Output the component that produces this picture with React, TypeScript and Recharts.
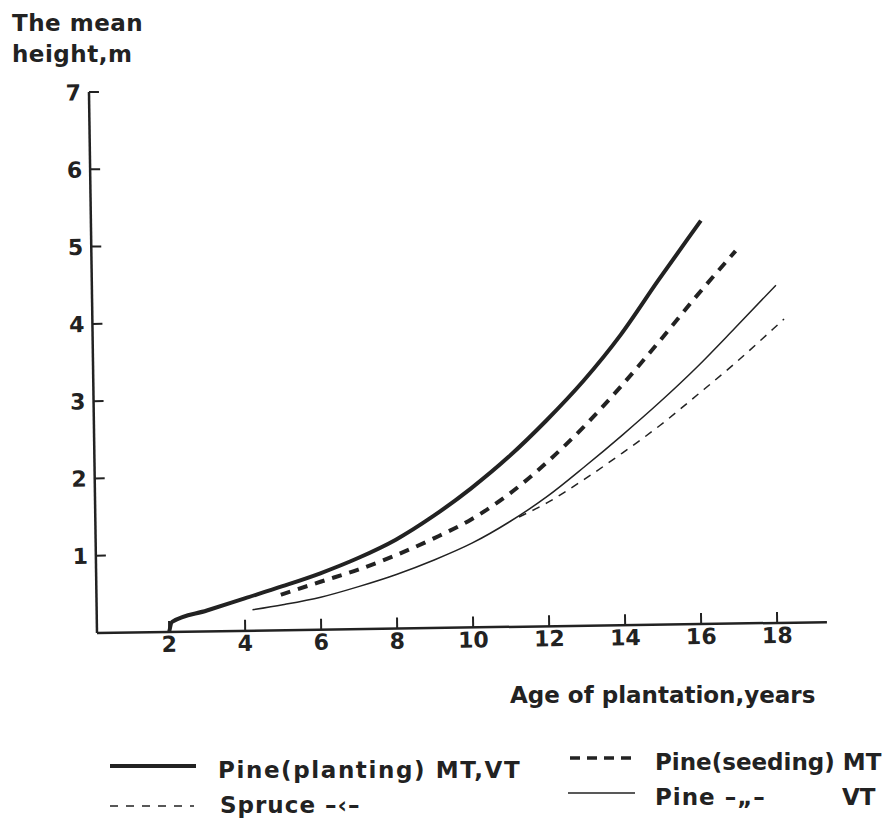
import { LineChart, Line, XAxis, YAxis } from 'recharts';

const plantingAge = [2, 2.08, 3, 4, 5, 6, 7, 8, 9, 10, 11, 12, 13, 14, 15, 16, 16.15];
const plantingHeight = [0, 0.13, 0.27, 0.42, 0.57, 0.73, 0.92, 1.15, 1.45, 1.8, 2.2, 2.66, 3.17, 3.76, 4.45, 5.12, 5.22];

const seedingAge = [4.95, 6, 7, 8, 9, 10, 11, 12, 13, 14, 15, 16, 17.05];
const seedingHeight = [0.46, 0.62, 0.77, 0.95, 1.16, 1.4, 1.72, 2.12, 2.58, 3.1, 3.66, 4.24, 4.82];

const pineVtAge = [4.2, 5, 6, 7, 8, 9, 10, 11, 12, 13, 14, 15, 16, 17, 18.1];
const pineVtHeight = [0.27, 0.33, 0.42, 0.55, 0.7, 0.88, 1.09, 1.36, 1.68, 2.06, 2.46, 2.88, 3.33, 3.82, 4.37];

const spruceAge = [11.25, 12, 13, 14, 15, 16, 17, 18, 18.3];
const spruceHeight = [1.42, 1.6, 1.9, 2.23, 2.58, 2.97, 3.37, 3.8, 3.93];

const xTicks = [2, 4, 6, 8, 10, 12, 14, 16, 18];
const yTicks = [1, 2, 3, 4, 5, 6, 7];

const toRows = (ages: number[], heights: number[]) => ages.map((age, i) => ({ age, h: heights[i] }));

const INK = '#222';
const FONT = '"DejaVu Sans", sans-serif';

const XTick = (props: any) => {
  const { x, y, payload } = props;
  return (
    <g>
      <line x1={x} y1={y} x2={x} y2={y - 11} stroke={INK} strokeWidth={2} />
      <text x={x} y={y + 20} textAnchor="middle" fontSize={22} fontWeight="bold" fill={INK} fontFamily={FONT}>
        {payload.value}
      </text>
    </g>
  );
};

const YTick = (props: any) => {
  const { x, y, payload } = props;
  return (
    <g>
      <line x1={x} y1={y} x2={x + 10} y2={y} stroke={INK} strokeWidth={2} />
      <text x={x - 8} y={y + 8} textAnchor="end" fontSize={22} fontWeight="bold" fill={INK} fontFamily={FONT}>
        {payload.value}
      </text>
    </g>
  );
};

export default function App() {
  const textStyle = { fontFamily: FONT, fontWeight: 'bold' as const, fill: INK };
  return (
    <div style={{ position: 'absolute', left: 0, top: 0, width: 892, height: 819, background: '#fff' }}>
      <div style={{ position: 'absolute', left: 0, top: 0, transform: 'rotate(-0.85deg)', transformOrigin: '97px 633px' }}>
        <LineChart width={892} height={819} margin={{ top: 92, right: 65, bottom: 185, left: 96 }}>
          <XAxis
            dataKey="age"
            type="number"
            domain={[0.1, 19.31]}
            ticks={xTicks}
            height={1}
            tickSize={0}
            tickMargin={0}
            tick={<XTick />}
            axisLine={{ stroke: INK, strokeWidth: 2.5 }}
            allowDataOverflow
          />
          <YAxis
            type="number"
            domain={[0, 7]}
            ticks={yTicks}
            width={1}
            tickSize={0}
            tickMargin={0}
            tick={<YTick />}
            axisLine={{ stroke: INK, strokeWidth: 2.5 }}
            allowDataOverflow
          />
          <Line data={toRows(plantingAge, plantingHeight)} dataKey="h" type="monotone" stroke={INK} strokeWidth={4} dot={false} isAnimationActive={false} />
          <Line data={toRows(seedingAge, seedingHeight)} dataKey="h" type="monotone" stroke={INK} strokeWidth={4} strokeDasharray="10 8" dot={false} isAnimationActive={false} />
          <Line data={toRows(pineVtAge, pineVtHeight)} dataKey="h" type="monotone" stroke={INK} strokeWidth={1.5} dot={false} isAnimationActive={false} />
          <Line data={toRows(spruceAge, spruceHeight)} dataKey="h" type="monotone" stroke={INK} strokeWidth={1.5} strokeDasharray="8 7" dot={false} isAnimationActive={false} />
        </LineChart>
      </div>
      <svg width={892} height={819} style={{ position: 'absolute', left: 0, top: 0, pointerEvents: 'none' }}>
        <text x={12} y={31} fontSize={23} letterSpacing={0.5} {...textStyle}>The mean</text>
        <text x={12} y={62} fontSize={23} letterSpacing={0.5} {...textStyle}>height,m</text>
        <text x={510} y={703} fontSize={23} {...textStyle}>Age of plantation,years</text>

        <line x1={110} y1={766} x2={196} y2={766} stroke={INK} strokeWidth={4} />
        <text x={218} y={778} fontSize={23} letterSpacing={1.6} {...textStyle}>Pine(planting) MT,VT</text>
        <line x1={110} y1={806} x2={194} y2={806} stroke={INK} strokeWidth={1.6} strokeDasharray="8 8" />
        <text x={220} y={813} fontSize={23} letterSpacing={1} {...textStyle}>Spruce  –‹–</text>

        <line x1={570} y1={758} x2={638} y2={758} stroke={INK} strokeWidth={3.5} strokeDasharray="10 7" />
        <text x={655} y={770} fontSize={23} letterSpacing={0} {...textStyle}>Pine(seeding) MT</text>
        <line x1={568} y1={793} x2={635} y2={793} stroke={INK} strokeWidth={1.6} />
        <text x={655} y={805} fontSize={23} letterSpacing={1} {...textStyle}>Pine   –„–</text>
        <text x={842} y={805} fontSize={23} letterSpacing={0} {...textStyle}>VT</text>
      </svg>
    </div>
  );
}
